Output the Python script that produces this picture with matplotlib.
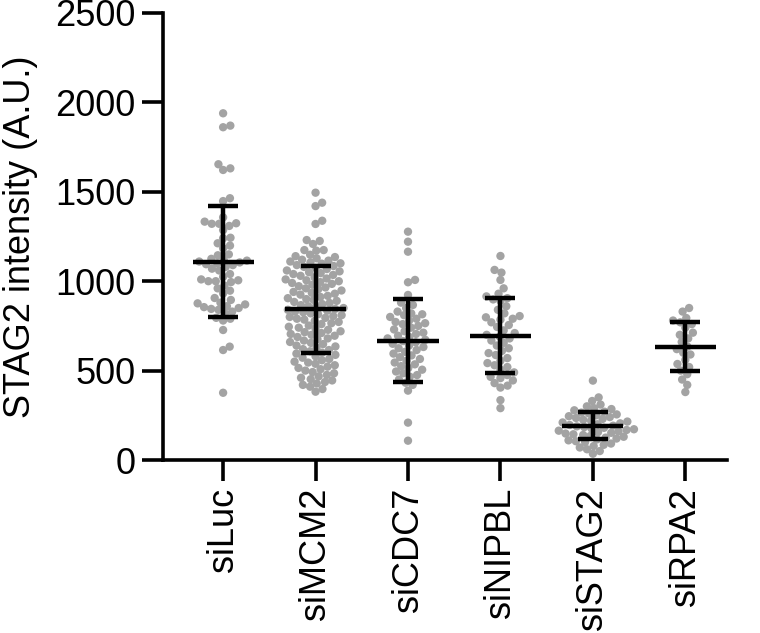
import matplotlib
matplotlib.use("Agg")
import matplotlib.pyplot as plt
import numpy as np

plt.rcParams['font.family'] = ['Liberation Sans', 'DejaVu Sans']

groups = ["siLuc", "siMCM2", "siCDC7", "siNIPBL", "siSTAG2", "siRPA2"]

siLuc = [1939, 1870, 1861, 1654, 1622, 1631, 1464, 1448, 1357, 1324, 1321,
         1286, 1309, 1321, 1333, 1240, 1199, 1184, 1212, 1243, 1150, 1145,
         1120, 1110, 1100, 1095, 1090, 1105, 1115, 1125, 1080, 1070, 1060,
         1040, 1025, 1000, 1005, 995, 1000, 1010, 947, 932, 960, 975, 906,
         876, 880, 895, 870, 860, 850, 840, 830, 845, 855, 820, 790, 795,
         780, 727, 634, 615, 376]
siMCM2 = [1495, 1439, 1420, 1338, 1320, 1230, 1225, 1208, 1174, 1171, 1174,
          1148, 1140, 1135, 1128, 1120, 1115, 1110, 1105, 1100, 1098,
          1090, 1085, 1080, 1075, 1068, 1060, 1055, 1050, 1045, 1040, 1035,
          1030, 1022, 1015, 1010, 1005, 1000,
          995, 990, 985, 980, 972, 965, 960, 955, 948, 940, 935, 930, 925,
          918, 912, 905, 900,
          895, 890, 884, 878, 872, 866, 860, 855, 850, 845, 840, 835, 830,
          826, 820, 815, 810, 805, 800,
          795, 790, 785, 778, 772, 765, 760, 752, 745, 740, 735, 728, 720,
          715, 710, 705, 700,
          695, 688, 680, 675, 668, 660, 655, 648, 640, 635, 628, 620, 615,
          608, 600,
          595, 588, 580, 572, 565, 558, 550, 545, 538, 530, 522, 515, 508, 500,
          492, 485, 476, 468, 460, 452, 445, 436, 428, 420, 410, 397, 382]
siCDC7 = [1277, 1221, 1165, 1007, 994, 923, 880, 867, 850, 830, 820, 815, 810,
          800, 790, 780, 772, 765, 760, 750, 740, 730, 720, 712, 705, 695,
          688, 680, 672, 665, 658, 650, 640, 632, 625, 615, 605, 595, 585,
          575, 565, 555, 545, 535, 525, 515, 505, 495, 485, 475, 466, 450,
          432, 420, 388, 209, 108]
siNIPBL = [1141, 1063, 1048, 1007, 960, 930, 915, 905, 898, 890, 860, 840,
           820, 805, 798, 790, 785, 770, 755, 744, 725, 710, 700, 690, 680,
           668, 655, 640, 625, 610, 598, 587, 570, 555, 542, 530, 520, 505,
           490, 475, 465, 458, 445, 430, 416, 405, 335, 290]
siSTAG2 = [444, 350, 330, 310, 300, 290, 285, 278, 270, 265, 260, 255, 250,
           245, 240, 235, 230, 225, 220, 215, 210, 205, 200, 196, 192, 188,
           184, 180, 176, 172, 168, 164, 160, 156, 152, 148, 144, 140, 135,
           130, 125, 120, 115, 110, 105, 100, 92, 85, 78, 70, 60, 50, 35]
siRPA2 = [850, 830, 794, 780, 770, 760, 740, 712, 700, 680, 660, 634, 620,
          600, 590, 560, 537, 520, 500, 480, 450, 420, 380]

points = [siLuc, siMCM2, siCDC7, siNIPBL, siSTAG2, siRPA2]
means = [1109, 843, 666, 695, 192, 634]
sds = [311, 244, 232, 209, 75, 135]

yticks = [0, 500, 1000, 1500, 2000, 2500]


def swarm(values, d):
    # values in pixels; returns x offsets in pixels
    order = np.argsort(values)
    placed = []
    offs = np.zeros(len(values))
    for i in order:
        y = values[i]
        cands = [0.0]
        for (px, py) in placed:
            dy = abs(py - y)
            if dy < d:
                dx = np.sqrt(d * d - dy * dy)
                cands += [px + dx, px - dx]
        cands.sort(key=abs)
        for c in cands:
            ok = True
            for (px, py) in placed:
                if (px - c) ** 2 + (py - y) ** 2 < d * d - 1e-6:
                    ok = False
                    break
            if ok:
                offs[i] = c
                placed.append((c, y))
                break
    return offs


fig = plt.figure(figsize=(7.6, 6.33), dpi=100)
ax = fig.add_axes([0.2145, 0.2733, 0.742, 0.7062])
ax.set_xlim(-0.65, 5.45)
ax.set_ylim(0, 2500)

# pixel scales
p0 = ax.transData.transform((0, 0))
p1 = ax.transData.transform((1, 1))
px_x = p1[0] - p0[0]
px_y = p1[1] - p0[1]

dot_d = 7.4
for i, vals in enumerate(points):
    vals = np.array(vals, dtype=float)
    offs = swarm(vals * px_y, dot_d)
    ax.scatter(i + offs / px_x, vals, s=36, color='#a3a3a3',
               edgecolors='none', zorder=2, clip_on=False)

x = np.arange(len(groups))
ax.errorbar(x, means, yerr=sds, fmt='none', ecolor='black', elinewidth=3.2,
            capsize=11, capthick=3.2, zorder=3)
ax.hlines(means, x - 0.33, x + 0.33, color='black', linewidth=3.2, zorder=3)

for s in ['top', 'right']:
    ax.spines[s].set_visible(False)
for s in ['left', 'bottom']:
    ax.spines[s].set_linewidth(2.6)

ax.set_xticks(x)
ax.set_xticklabels(groups, rotation=90)
ax.set_yticks(yticks)
ax.tick_params(axis='both', length=15, width=2.6, labelsize=26, pad=5)
ax.set_ylabel("STAG2 intensity (A.U.)", fontsize=26, labelpad=12)

fig.savefig("out.png", dpi=100)
